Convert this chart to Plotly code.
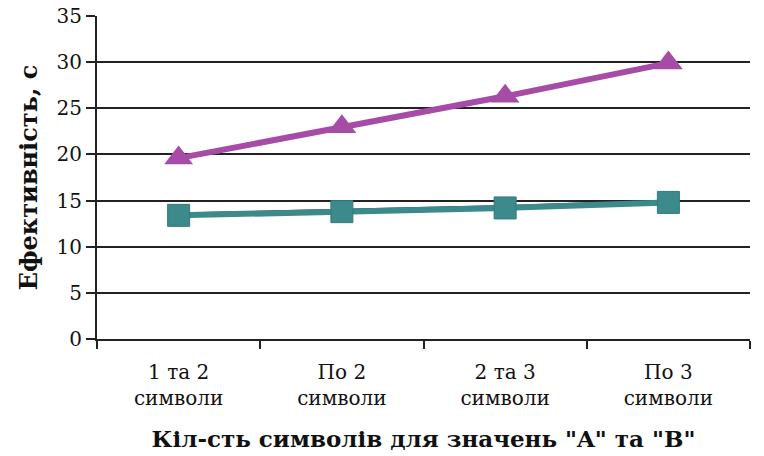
import plotly.graph_objects as go

# Category labels along the x axis
categories = ["1 та 2<br>символи", "По 2<br>символи", "2 та 3<br>символи", "По 3<br>символи"]

# Efficiency values, seconds
series_purple = [19.6, 23.0, 26.3, 29.9]
series_navy = [13.5, 13.9, 14.3, 14.9]
series_teal = [13.4, 13.8, 14.2, 14.8]

y_ticks = [0, 5, 10, 15, 20, 25, 30, 35]

FONT = "DejaVu Serif"

fig = go.Figure()

fig.add_trace(go.Scatter(
    x=categories, y=series_navy, mode="lines",
    line=dict(color="#1F2F5A", width=4),
    showlegend=False,
))
fig.add_trace(go.Scatter(
    x=categories, y=series_teal, mode="lines+markers",
    line=dict(color="#3C8A8C", width=6),
    marker=dict(symbol="square", size=22, color="#3C8A8C",
                line=dict(color="#357878", width=1)),
    showlegend=False,
))
fig.add_trace(go.Scatter(
    x=categories, y=series_purple, mode="lines+markers",
    line=dict(color="#A64BA6", width=6),
    marker=dict(symbol="triangle-up", size=25, color="#A64BA6"),
    showlegend=False,
))

fig.update_layout(
    width=764, height=456,
    margin=dict(l=97, r=14, t=16, b=117),
    plot_bgcolor="white", paper_bgcolor="white",
    font=dict(family=FONT, color="#111111"),
    xaxis=dict(
        type="category",
        range=[-0.5, 3.5],
        automargin=False,
        showgrid=False,
        showline=True, linecolor="#222222", linewidth=2,
        ticks="outside", tickson="boundaries", ticklen=8,
        tickcolor="#222222", tickwidth=1.5,
        ticklabelstandoff=14,
        tickfont=dict(family=FONT, size=20),
        title=dict(text="<b>Кіл-сть символів для значень \"A\" та \"B\"</b>",
                   font=dict(family=FONT, size=23), standoff=22),
    ),
    yaxis=dict(
        range=[0, 35],
        tickvals=y_ticks,
        automargin=False,
        showgrid=True, gridcolor="#222222", gridwidth=1.5,
        showline=True, linecolor="#222222", linewidth=2,
        ticks="outside", ticklen=9, tickcolor="#222222", tickwidth=1.5,
        tickfont=dict(family=FONT, size=20),
        zeroline=False,
        title=dict(text="<b>Ефективність, с</b>",
                   font=dict(family=FONT, size=24), standoff=12),
    ),
)

fig.write_html("out.html")
